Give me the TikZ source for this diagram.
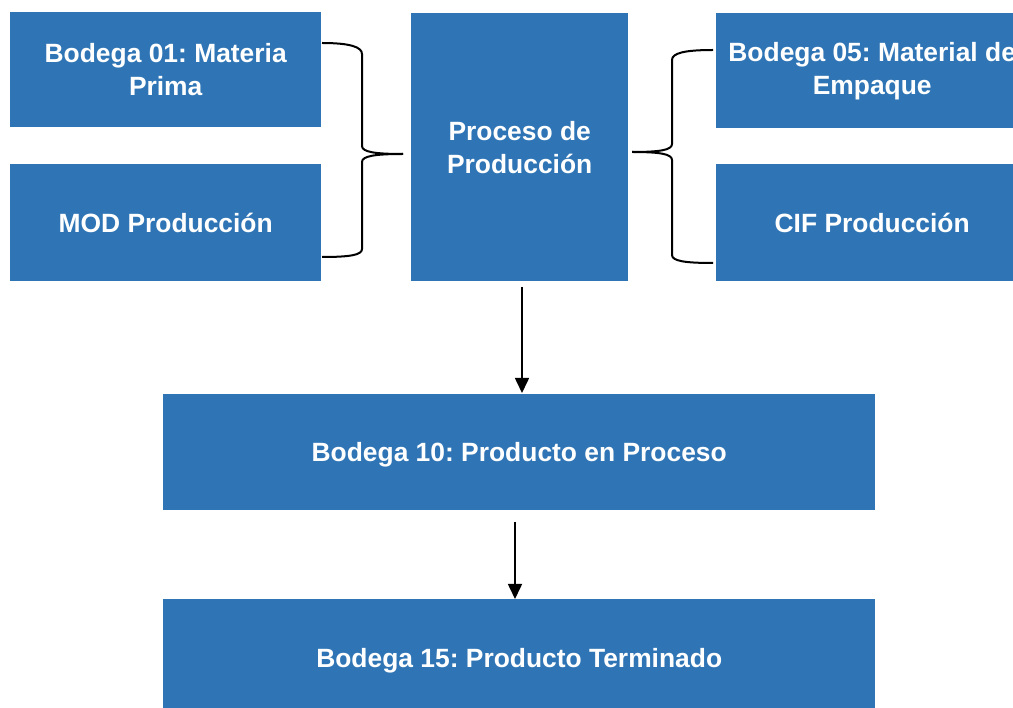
\documentclass[tikz,border=0pt]{standalone}
\usepackage{fontspec}
\setmainfont{Liberation Sans}
\usetikzlibrary{arrows.meta}
\definecolor{boxblue}{HTML}{2F75B5}
\frenchspacing
\begin{document}
\begin{tikzpicture}[x=1pt,y=-1pt,
  blk/.style={fill=boxblue,draw=none,text=white,font=\fontsize{26.4}{33}\selectfont\bfseries\frenchspacing,align=center,inner sep=0pt,anchor=north west},
  oneline/.style={text height=19.3pt,text depth=0pt},
  brace/.style={line width=2pt,line join=round},
  arr/.style={line width=1.6pt,-{Triangle[length=15pt,width=14pt]}}]
\useasboundingbox (0,0) rectangle (1013,708);
\begin{scope}
\clip (0,0) rectangle (1013,708);
\node[blk,minimum width=311pt,minimum height=115pt] (A) at (10,12) {Bodega 01: Materia\\Prima};
\node[blk,minimum width=311pt,minimum height=117pt] (B) at (10,164) {MOD Producción};
\node[blk,minimum width=217pt,minimum height=268pt] (C) at (411,13) {Proceso de\\Producción};
\node[blk,minimum width=312pt,minimum height=115pt] (D) at (716,13) {Bodega 05: Material de\\Empaque};
\node[blk,minimum width=312pt,minimum height=117pt] (E) at (716,164) {CIF Producción};
\node[blk,oneline,minimum width=712pt,minimum height=116pt] (F) at (163,394) {Bodega 10: Producto en Proceso};
\node[blk,oneline,minimum width=712pt,minimum height=118pt] (G) at (163,599) {Bodega 15: Producto Terminado};
\fill[boxblue] (10,13) rectangle (321,14);
\end{scope}
% left brace
\coordinate (lt) at (322,43);
\coordinate (lb) at (322,257);
\coordinate (ltip) at (403,154);
\draw[brace] (lt) .. controls (350,43) and (362,47) .. (362,54) -- (362,146)
  .. controls (362,152) and (375,154) .. (ltip);
\draw[brace] (ltip) .. controls (375,154) and (362,156) .. (362,162) -- (362,249)
  .. controls (362,255) and (350,257) .. (lb);
% right brace
\coordinate (rt) at (713,50);
\coordinate (rb) at (713,263);
\coordinate (rtip) at (632,152);
\draw[brace] (rt) .. controls (685,50) and (672,53) .. (672,60) -- (672,144)
  .. controls (672,150) and (660,152) .. (rtip);
\draw[brace] (rtip) .. controls (660,152) and (672,154) .. (672,160) -- (672,255)
  .. controls (672,261) and (685,263) .. (rb);
% arrows
\coordinate (a1s) at (522,287);
\coordinate (a1e) at (522,393);
\coordinate (a2s) at (515,522);
\coordinate (a2e) at (515,599);
\draw[arr] (a1s) -- (a1e);
\draw[arr] (a2s) -- (a2e);
\end{tikzpicture}
\end{document}
